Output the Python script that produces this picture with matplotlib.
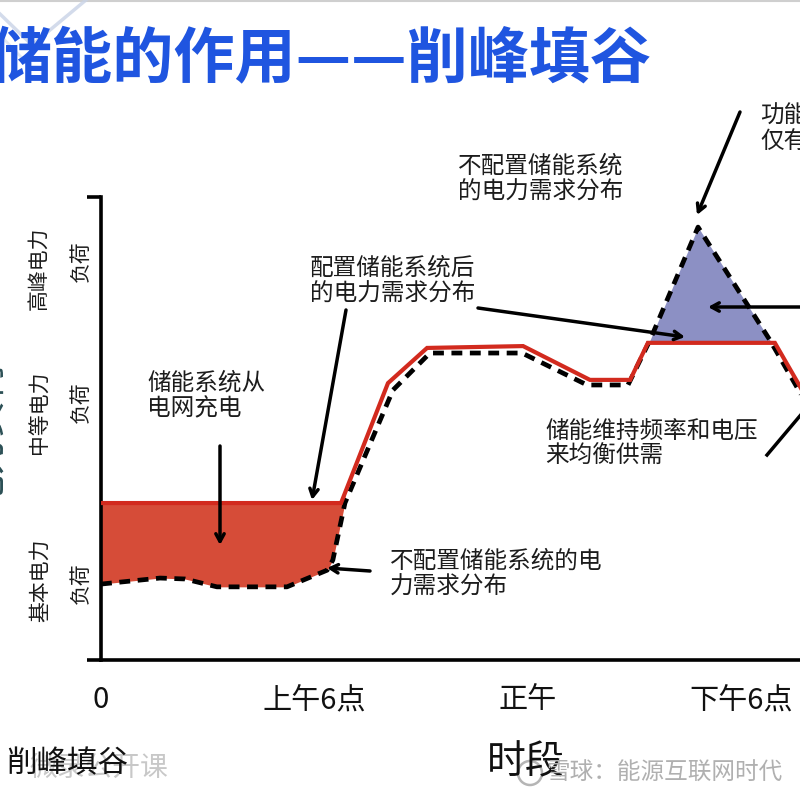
import numpy as np
import matplotlib
matplotlib.use("Agg")
import matplotlib.pyplot as plt
from matplotlib.patches import Circle

plt.rcParams['font.family'] = ['Noto Sans CJK SC', 'DejaVu Sans']

# ---------------- data (hours, relative load 0-100) ----------------
tick_hours = [0, 6, 12, 18]
tick_labels = ['0', '上午6点', '正午', '下午6点']

# load curve with storage (red solid)
red_hours = [0, 6.75, 8.07, 9.17, 11.87, 13.75, 14.88, 15.38, 18.95, 19.94]
red_load = [33.9, 33.9, 59.8, 67.4, 67.8, 60.5, 60.5, 68.5, 68.5, 55.3]

# load curve without storage (black dashed)
dash_hours = [0, 1.66, 2.36, 3.26, 5.23, 6.36, 6.52, 6.86, 8.21, 9.25, 11.84,
              13.67, 14.82, 15.44, 16.79, 18.81, 19.94]
dash_load = [16.4, 17.7, 17.5, 15.8, 15.8, 19.4, 21.6, 33.9, 58.3, 66.3, 66.3,
             59.4, 59.4, 69.1, 93.5, 69.1, 54.0]

# ---------------- figure ----------------
W = H = 800
fig = plt.figure(figsize=(8, 8), dpi=100)
fig.patch.set_facecolor('white')

px_per_hour = 35.56
ax_left, ax_bottom_px, ax_top_px = 101, 660, 197
ax = fig.add_axes([ax_left / W, 1 - ax_bottom_px / H, (W - ax_left) / W,
                   (ax_bottom_px - ax_top_px) / H])
ax.set_xlim(0, (W - ax_left) / px_per_hour)
ax.set_ylim(0, 100)
ax.set_facecolor('none')

for s in ['top', 'right']:
    ax.spines[s].set_visible(False)
for s in ['left', 'bottom']:
    ax.spines[s].set_linewidth(2.6)
    ax.spines[s].set_color('black')
ax.spines['left'].set_capstyle('projecting')

ax.set_xticks(tick_hours)
ax.set_xticklabels(tick_labels)
ax.tick_params(axis='x', length=0, pad=18, labelsize=21, labelcolor='#111111')
ax.set_yticks([0, 100])
ax.set_yticklabels([])
ax.tick_params(axis='y', length=10, width=2.6, direction='out', color='black')

xs = np.union1d(red_hours, dash_hours)
r = np.interp(xs, red_hours, red_load)
d = np.interp(xs, dash_hours, dash_load)
ax.fill_between(xs, d, r, where=(xs <= 6.9) & (r >= d), interpolate=True,
                color='#d64c38', lw=0, zorder=1)
ax.fill_between(xs, r, d, where=(xs >= 15) & (d >= r), interpolate=True,
                color='#8c90c4', lw=0, zorder=1)

ax.plot(dash_hours, dash_load, color='black', lw=3.4, dashes=(2.3, 1.6),
        zorder=2, solid_joinstyle='miter')
ax.plot(red_hours, red_load, color='#d22a1e', lw=3.0, zorder=3,
        solid_joinstyle='miter')

# ---------------- overlay for texts / arrows ----------------
ov = fig.add_axes([0, 0, 1, 1], zorder=5)
ov.set_xlim(0, W)
ov.set_ylim(H, 0)
ov.axis('off')
ov.patch.set_alpha(0)

# top border / decoration
ov.plot([0, 800], [1, 1], color='#cfcfcf', lw=1.5)
ov.plot([0, 32, 86], [14, 45, 0], color='#c9d3e6', lw=2.5, alpha=0.8)
ov.plot([0, 22], [35, 58], color='#dde3ee', lw=2, alpha=0.8)

# title
ov.text(-10, 60, '储能的作用——削峰填谷', fontsize=44, fontweight='bold',
        color='#1f55e0', ha='left', va='center')

txt = '#1c1c1c'
fs = 17

# clipped y-axis title at the far left
ov.text(-14, 432, '电力负荷', fontsize=27, rotation=90, color='#2b4f55',
        ha='center', va='center')

# y-band labels
for label, yc in [('高峰电力', 268), ('中等电力', 412), ('基本电力', 580)]:
    ov.text(40, yc, label, fontsize=15, rotation=90, color=txt,
            ha='center', va='center')
for yc in [261, 402, 583]:
    ov.text(81, yc, '负荷', fontsize=15, rotation=90, color=txt,
            ha='center', va='center')

# annotation texts
ov.text(147, 396, '储能系统从\n电网充电', fontsize=fs, color=txt,
        ha='left', va='center', linespacing=1.15)
ov.text(310, 281, '配置储能系统后\n的电力需求分布', fontsize=fs, color=txt,
        ha='left', va='center', linespacing=1.15)
ov.text(458, 179, '不配置储能系统\n的电力需求分布', fontsize=fs, color=txt,
        ha='left', va='center', linespacing=1.15)
ov.text(760, 129, '功能\n仅有', fontsize=fs, color=txt,
        ha='left', va='center', linespacing=1.15)
ov.text(545, 444, '储能维持频率和电压\n来均衡供需', fontsize=fs, color=txt,
        ha='left', va='center', linespacing=1.15)
ov.text(390, 574, '不配置储能系统的电\n力需求分布', fontsize=fs, color=txt,
        ha='left', va='center', linespacing=1.15)

ap = dict(arrowstyle='->,head_length=0.55,head_width=0.3', lw=2.5,
          color='black', shrinkA=0, shrinkB=0)
for start, tip in [((220, 446), (220, 545)),
                   ((346, 310), (312, 500)),
                   ((478, 308), (685, 337)),
                   ((740, 112), (697, 215)),
                   ((806, 307), (708, 307)),
                   ((370, 571), (327, 568))]:
    ov.annotate('', xy=tip, xytext=start, arrowprops=ap)
ov.plot([767, 815], [455, 398], color='black', lw=2.5)

# bottom texts
ov.text(526, 762, '时段', fontsize=28, color='#111111', ha='center', va='center')
ov.text(30, 768, '微录公开课', fontsize=20, color='#c8c8c8', ha='left',
        va='center')
ov.text(6, 764, '削峰填谷', fontsize=22, color='#111111', ha='left', va='center')
ov.add_patch(Circle((530, 773), 12, fill=False, ec='#b5b5b5', lw=1.8))
ov.text(546, 773, '雪球：能源互联网时代', fontsize=17, color='#b0b0b0',
        ha='left', va='center')

fig.savefig('out.png', dpi=100, facecolor='white')
